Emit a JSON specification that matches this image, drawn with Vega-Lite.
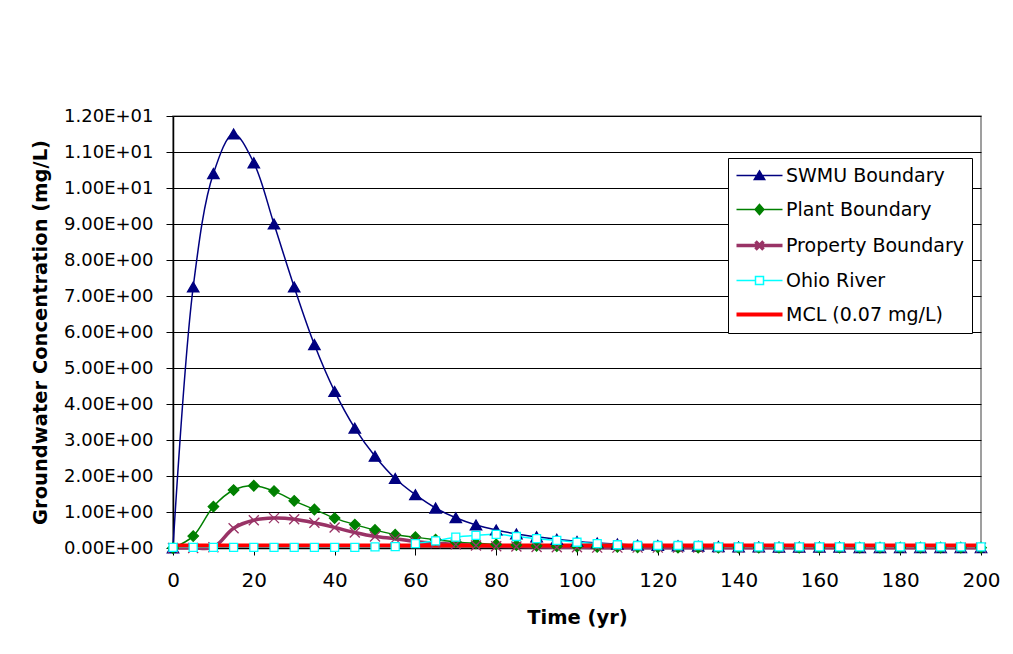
{
  "$schema": "https://vega.github.io/schema/vega-lite/v6.json",
  "width": 808,
  "height": 432,
  "autosize": {"type": "none"},
  "padding": {"left": 173, "top": 116, "right": 32, "bottom": 106},
  "background": "white",
  "data": {"values": [
    {"t":0,"s":"SWMU Boundary","c":0},{"t":5,"s":"SWMU Boundary","c":7.25},{"t":10,"s":"SWMU Boundary","c":10.4},{"t":15,"s":"SWMU Boundary","c":11.5},{"t":20,"s":"SWMU Boundary","c":10.7},{"t":25,"s":"SWMU Boundary","c":9.0},{"t":30,"s":"SWMU Boundary","c":7.25},{"t":35,"s":"SWMU Boundary","c":5.65},{"t":40,"s":"SWMU Boundary","c":4.35},{"t":45,"s":"SWMU Boundary","c":3.33},{"t":50,"s":"SWMU Boundary","c":2.55},{"t":55,"s":"SWMU Boundary","c":1.93},{"t":60,"s":"SWMU Boundary","c":1.48},{"t":65,"s":"SWMU Boundary","c":1.11},{"t":70,"s":"SWMU Boundary","c":0.84},{"t":75,"s":"SWMU Boundary","c":0.64},{"t":80,"s":"SWMU Boundary","c":0.5},{"t":85,"s":"SWMU Boundary","c":0.39},{"t":90,"s":"SWMU Boundary","c":0.31},{"t":95,"s":"SWMU Boundary","c":0.24},{"t":100,"s":"SWMU Boundary","c":0.18},{"t":105,"s":"SWMU Boundary","c":0.14},{"t":110,"s":"SWMU Boundary","c":0.11},{"t":115,"s":"SWMU Boundary","c":0.08},{"t":120,"s":"SWMU Boundary","c":0.07},{"t":125,"s":"SWMU Boundary","c":0.06},{"t":130,"s":"SWMU Boundary","c":0.05},{"t":135,"s":"SWMU Boundary","c":0.04},{"t":140,"s":"SWMU Boundary","c":0.03},{"t":145,"s":"SWMU Boundary","c":0.03},{"t":150,"s":"SWMU Boundary","c":0.02},{"t":155,"s":"SWMU Boundary","c":0.02},{"t":160,"s":"SWMU Boundary","c":0.02},{"t":165,"s":"SWMU Boundary","c":0.02},{"t":170,"s":"SWMU Boundary","c":0.01},{"t":175,"s":"SWMU Boundary","c":0.01},{"t":180,"s":"SWMU Boundary","c":0.01},{"t":185,"s":"SWMU Boundary","c":0.01},{"t":190,"s":"SWMU Boundary","c":0.01},{"t":195,"s":"SWMU Boundary","c":0.01},{"t":200,"s":"SWMU Boundary","c":0.01},
    {"t":0,"s":"Plant Boundary","c":0},{"t":5,"s":"Plant Boundary","c":0.33},{"t":10,"s":"Plant Boundary","c":1.15},{"t":15,"s":"Plant Boundary","c":1.61},{"t":20,"s":"Plant Boundary","c":1.73},{"t":25,"s":"Plant Boundary","c":1.58},{"t":30,"s":"Plant Boundary","c":1.31},{"t":35,"s":"Plant Boundary","c":1.07},{"t":40,"s":"Plant Boundary","c":0.83},{"t":45,"s":"Plant Boundary","c":0.65},{"t":50,"s":"Plant Boundary","c":0.5},{"t":55,"s":"Plant Boundary","c":0.37},{"t":60,"s":"Plant Boundary","c":0.3},{"t":65,"s":"Plant Boundary","c":0.23},{"t":70,"s":"Plant Boundary","c":0.17},{"t":75,"s":"Plant Boundary","c":0.13},{"t":80,"s":"Plant Boundary","c":0.1},{"t":85,"s":"Plant Boundary","c":0.08},{"t":90,"s":"Plant Boundary","c":0.06},{"t":95,"s":"Plant Boundary","c":0.05},{"t":100,"s":"Plant Boundary","c":0.04},{"t":105,"s":"Plant Boundary","c":0.03},{"t":110,"s":"Plant Boundary","c":0.03},{"t":115,"s":"Plant Boundary","c":0.02},{"t":120,"s":"Plant Boundary","c":0.02},{"t":125,"s":"Plant Boundary","c":0.01},{"t":130,"s":"Plant Boundary","c":0.01},{"t":135,"s":"Plant Boundary","c":0.01},{"t":140,"s":"Plant Boundary","c":0.01},{"t":145,"s":"Plant Boundary","c":0.01},{"t":150,"s":"Plant Boundary","c":0.01},{"t":155,"s":"Plant Boundary","c":0.01},{"t":160,"s":"Plant Boundary","c":0.01},{"t":165,"s":"Plant Boundary","c":0.01},{"t":170,"s":"Plant Boundary","c":0.01},{"t":175,"s":"Plant Boundary","c":0.01},{"t":180,"s":"Plant Boundary","c":0.01},{"t":185,"s":"Plant Boundary","c":0.01},{"t":190,"s":"Plant Boundary","c":0.01},{"t":195,"s":"Plant Boundary","c":0.01},{"t":200,"s":"Plant Boundary","c":0.01},
    {"t":0,"s":"Property Boundary","c":0},{"t":5,"s":"Property Boundary","c":0},{"t":10,"s":"Property Boundary","c":0.02},{"t":15,"s":"Property Boundary","c":0.55},{"t":20,"s":"Property Boundary","c":0.77},{"t":25,"s":"Property Boundary","c":0.83},{"t":30,"s":"Property Boundary","c":0.8},{"t":35,"s":"Property Boundary","c":0.7},{"t":40,"s":"Property Boundary","c":0.57},{"t":45,"s":"Property Boundary","c":0.43},{"t":50,"s":"Property Boundary","c":0.32},{"t":55,"s":"Property Boundary","c":0.26},{"t":60,"s":"Property Boundary","c":0.18},{"t":65,"s":"Property Boundary","c":0.13},{"t":70,"s":"Property Boundary","c":0.1},{"t":75,"s":"Property Boundary","c":0.07},{"t":80,"s":"Property Boundary","c":0.05},{"t":85,"s":"Property Boundary","c":0.04},{"t":90,"s":"Property Boundary","c":0.03},{"t":95,"s":"Property Boundary","c":0.02},{"t":100,"s":"Property Boundary","c":0.02},{"t":105,"s":"Property Boundary","c":0.01},{"t":110,"s":"Property Boundary","c":0.01},{"t":115,"s":"Property Boundary","c":0.01},{"t":120,"s":"Property Boundary","c":0.01},{"t":125,"s":"Property Boundary","c":0.01},{"t":130,"s":"Property Boundary","c":0.01},{"t":135,"s":"Property Boundary","c":0.01},{"t":140,"s":"Property Boundary","c":0.01},{"t":145,"s":"Property Boundary","c":0.01},{"t":150,"s":"Property Boundary","c":0.01},{"t":155,"s":"Property Boundary","c":0.01},{"t":160,"s":"Property Boundary","c":0.01},{"t":165,"s":"Property Boundary","c":0.01},{"t":170,"s":"Property Boundary","c":0.01},{"t":175,"s":"Property Boundary","c":0.01},{"t":180,"s":"Property Boundary","c":0.01},{"t":185,"s":"Property Boundary","c":0.01},{"t":190,"s":"Property Boundary","c":0.01},{"t":195,"s":"Property Boundary","c":0.01},{"t":200,"s":"Property Boundary","c":0.01},
    {"t":0,"s":"Ohio River","c":0.02},{"t":5,"s":"Ohio River","c":0.02},{"t":10,"s":"Ohio River","c":0.02},{"t":15,"s":"Ohio River","c":0.02},{"t":20,"s":"Ohio River","c":0.02},{"t":25,"s":"Ohio River","c":0.02},{"t":30,"s":"Ohio River","c":0.02},{"t":35,"s":"Ohio River","c":0.02},{"t":40,"s":"Ohio River","c":0.02},{"t":45,"s":"Ohio River","c":0.02},{"t":50,"s":"Ohio River","c":0.03},{"t":55,"s":"Ohio River","c":0.04},{"t":60,"s":"Ohio River","c":0.12},{"t":65,"s":"Ohio River","c":0.2},{"t":70,"s":"Ohio River","c":0.3},{"t":75,"s":"Ohio River","c":0.35},{"t":80,"s":"Ohio River","c":0.38},{"t":85,"s":"Ohio River","c":0.32},{"t":90,"s":"Ohio River","c":0.26},{"t":95,"s":"Ohio River","c":0.21},{"t":100,"s":"Ohio River","c":0.16},{"t":105,"s":"Ohio River","c":0.12},{"t":110,"s":"Ohio River","c":0.09},{"t":115,"s":"Ohio River","c":0.07},{"t":120,"s":"Ohio River","c":0.07},{"t":125,"s":"Ohio River","c":0.07},{"t":130,"s":"Ohio River","c":0.07},{"t":135,"s":"Ohio River","c":0.03},{"t":140,"s":"Ohio River","c":0.03},{"t":145,"s":"Ohio River","c":0.03},{"t":150,"s":"Ohio River","c":0.03},{"t":155,"s":"Ohio River","c":0.03},{"t":160,"s":"Ohio River","c":0.03},{"t":165,"s":"Ohio River","c":0.03},{"t":170,"s":"Ohio River","c":0.03},{"t":175,"s":"Ohio River","c":0.03},{"t":180,"s":"Ohio River","c":0.03},{"t":185,"s":"Ohio River","c":0.03},{"t":190,"s":"Ohio River","c":0.03},{"t":195,"s":"Ohio River","c":0.03},{"t":200,"s":"Ohio River","c":0.03},
    {"t":0,"s":"MCL (0.07 mg/L)","c":0.07},{"t":200,"s":"MCL (0.07 mg/L)","c":0.07}
  ]},
  "encoding": {
    "x": {"field": "t", "type": "quantitative", "scale": {"domain": [0, 200], "nice": false},
      "axis": {"values": [0,20,40,60,80,100,120,140,160,180,200], "grid": false, "title": "Time (yr)", "labelFlush": false,
        "labelFontSize": 20, "labelPadding": 15, "titlePadding": 18, "titleFontSize": 19.5}},
    "y": {"field": "c", "type": "quantitative", "scale": {"domain": [0, 12], "nice": false, "zero": true},
      "axis": {"values": [0,1,2,3,4,5,6,7,8,9,10,11,12], "grid": true, "title": "Groundwater Concentration (mg/L)", "labelFlush": false,
        "labelExpr": "datum.value == 0 ? '0.00E+00' : format(datum.value / pow(10, floor(log(datum.value) / LN10 + 1e-9)), '.2f') + 'E+' + (floor(log(datum.value) / LN10 + 1e-9) < 10 ? '0' : '') + floor(log(datum.value) / LN10 + 1e-9)",
        "labelFontSize": 18, "labelPadding": 13, "titlePadding": 13, "titleFontSize": 19.5}}
  },
  "layer": [
    {
      "mark": {"type": "line", "interpolate": "catmull-rom"},
      "encoding": {
        "color": {"field": "s", "type": "nominal",
          "scale": {"domain": ["SWMU Boundary", "Plant Boundary", "Property Boundary", "Ohio River", "MCL (0.07 mg/L)"],
                    "range": ["#000080", "#008000", "#993366", "#00FFFF", "#FF0000"]},
          "legend": {
            "title": null, "orient": "none", "legendX": 555, "legendY": 42,
            "fillColor": "white", "strokeColor": "black", "padding": 8,
            "labelFont": "DejaVu Sans", "labelFontSize": 19, "labelColor": "black", "labelLimit": 0,
            "symbolSize": 64, "symbolOffset": 14, "labelOffset": 17, "rowPadding": 14,
            "encode": {"symbols": {"update": {
              "shape": {"signal": "datum.value == 'SWMU Boundary' ? 'M-5.75,0L5.75,0M0,-1.15L1.3,1L-1.3,1Z' : datum.value == 'Plant Boundary' ? 'M-5.75,0L5.75,0M0,-1.25L1.1,0L0,1.25L-1.1,0Z' : datum.value == 'Property Boundary' ? 'M-5.75,0L5.75,0M-1,-1L1,1M-1,1L1,-1' : datum.value == 'Ohio River' ? 'M-5.75,0L-1,0M1,0L5.75,0M-1,-1L1,-1L1,1L-1,1Z' : 'M-5.75,0L5.75,0'"},
              "fill": {"signal": "datum.value == 'SWMU Boundary' ? '#000080' : datum.value == 'Plant Boundary' ? '#008000' : datum.value == 'Ohio River' ? 'white' : 'transparent'"},
              "stroke": {"signal": "datum.value == 'SWMU Boundary' ? '#000080' : datum.value == 'Plant Boundary' ? '#008000' : datum.value == 'Property Boundary' ? '#993366' : datum.value == 'Ohio River' ? '#00FFFF' : '#FF0000'"},
              "strokeWidth": {"signal": "datum.value == 'Property Boundary' ? 3 : datum.value == 'MCL (0.07 mg/L)' ? 3.5 : 1.5"},
              "opacity": {"value": 1}
            }}}
          }},
        "strokeWidth": {"field": "s", "type": "nominal", "legend": null,
          "scale": {"type": "ordinal", "domain": ["SWMU Boundary", "Plant Boundary", "Property Boundary", "Ohio River", "MCL (0.07 mg/L)"],
                    "range": [1.5, 1.5, 3.5, 1.5, 4]}}
      }
    },
    {
      "transform": [{"filter": "datum.s != 'MCL (0.07 mg/L)'"}],
      "mark": {"type": "point", "opacity": 1, "strokeWidth": 1.3},
      "encoding": {
        "shape": {"field": "s", "type": "nominal", "legend": null,
          "scale": {"domain": ["SWMU Boundary", "Plant Boundary", "Property Boundary", "Ohio River"],
                    "range": ["triangle-up", "diamond", "M-1,-1L1,1M-1,1L1,-1", "square"]}},
        "fill": {"field": "s", "type": "nominal", "legend": null,
          "scale": {"domain": ["SWMU Boundary", "Plant Boundary", "Property Boundary", "Ohio River"],
                    "range": ["#000080", "#008000", "transparent", "white"]}},
        "stroke": {"field": "s", "type": "nominal", "legend": null,
          "scale": {"domain": ["SWMU Boundary", "Plant Boundary", "Property Boundary", "Ohio River"],
                    "range": ["#000080", "#008000", "#993366", "#00FFFF"]}},
        "size": {"field": "s", "type": "nominal", "legend": null,
          "scale": {"type": "ordinal", "domain": ["SWMU Boundary", "Plant Boundary", "Property Boundary", "Ohio River"],
                    "range": [130, 110, 100, 64]}}
      }
    }
  ],
  "config": {
    "view": {"stroke": "#808080", "strokeWidth": 1.5, "fill": "white"},
    "axis": {
      "labelFont": "DejaVu Sans", "labelColor": "black", "titleFont": "DejaVu Sans", "titleFontWeight": "bold",
      "titleColor": "black", "domainColor": "black", "tickColor": "black", "tickSize": 7,
      "gridColor": "black", "gridOpacity": 1, "gridWidth": 1, "domainWidth": 1.5
    }
  }
}
